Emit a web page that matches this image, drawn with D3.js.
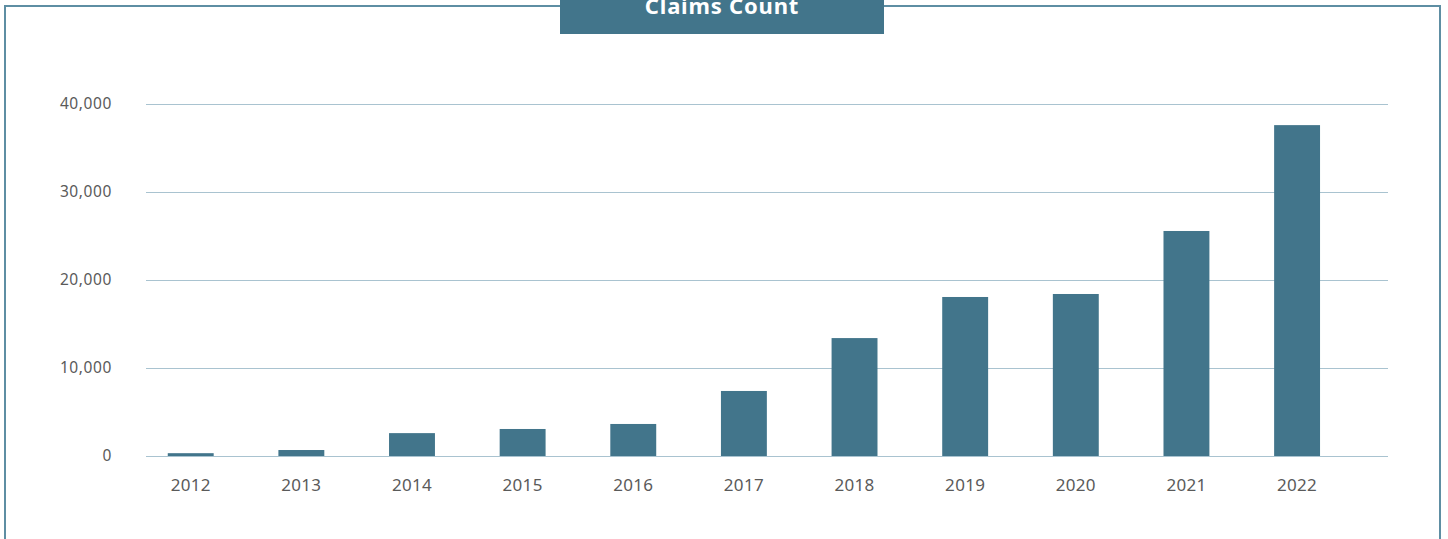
<!DOCTYPE html>
<html><head><meta charset="utf-8">
<script src="https://cdn.jsdelivr.net/npm/d3@7"></script>
<style>html,body{margin:0;padding:0;background:#fff;}svg{display:block;}</style>
</head><body>
<svg id="chart" width="1448" height="539"></svg>
<script>
const categories = ["2012","2013","2014","2015","2016","2017","2018","2019","2020","2021","2022"];
const claimsCount = [320, 680, 2600, 3070, 3640, 7390, 13400, 18070, 18410, 25570, 37600];
const yTicks = [0, 10000, 20000, 30000, 40000];
const titleText = "Claims Count";

const svg = d3.select("#chart");
const font = "'Noto Sans', 'DejaVu Sans', sans-serif";
const barColor = "#42758b";

// frame
svg.append("path")
  .attr("d", "M5,545 L5,6 L1440,6 L1440,545")
  .attr("fill", "none").attr("stroke", "#5e8ea3").attr("stroke-width", 2);

// title box
svg.append("rect").attr("x", 560).attr("y", 0).attr("width", 324).attr("height", 34).attr("fill", barColor);
svg.append("text").attr("x", 722).attr("y", 14).attr("text-anchor", "middle")
  .attr("font-family", font).attr("font-weight", "bold").attr("font-size", 22)
  .attr("letter-spacing", 0.8).attr("fill", "#fff")
  .text(titleText);

const x = d3.scaleBand().domain(categories).range([135.4, 1352.4]).padding(0);
const y = d3.scaleLinear().domain([0, 40000]).range([456, 104]);

// gridlines
svg.append("g").selectAll("line").data(yTicks).join("line")
  .attr("x1", 146).attr("x2", 1388)
  .attr("y1", d => Math.round(y(d)) + 0.5).attr("y2", d => Math.round(y(d)) + 0.5)
  .attr("stroke", "#a9c3d0").attr("stroke-width", 1.2);

// y labels
const fmt = d3.format(",");
svg.append("g").selectAll("text").data(yTicks).join("text")
  .attr("x", 112).attr("y", d => y(d) + 5).attr("text-anchor", "end")
  .attr("font-family", font).attr("font-size", 15.5).attr("letter-spacing", 0.6).attr("fill", "#5a5a5a")
  .text(d => fmt(d));

// bars
const bw = x.bandwidth() * 0.415;
svg.append("g").selectAll("rect").data(categories).join("rect")
  .attr("x", (d) => x(d) + (x.bandwidth() - bw) / 2)
  .attr("width", bw)
  .attr("y", (d, i) => y(claimsCount[i]))
  .attr("height", (d, i) => y(0) - y(claimsCount[i]))
  .attr("fill", barColor);

// x labels
svg.append("g").selectAll("text").data(categories).join("text")
  .attr("x", d => x(d) + x.bandwidth() / 2).attr("y", 491).attr("text-anchor", "middle")
  .attr("font-family", font).attr("font-size", 17).attr("letter-spacing", 0.3).attr("fill", "#5a5a5a")
  .text(d => d);
</script>
</body></html>
